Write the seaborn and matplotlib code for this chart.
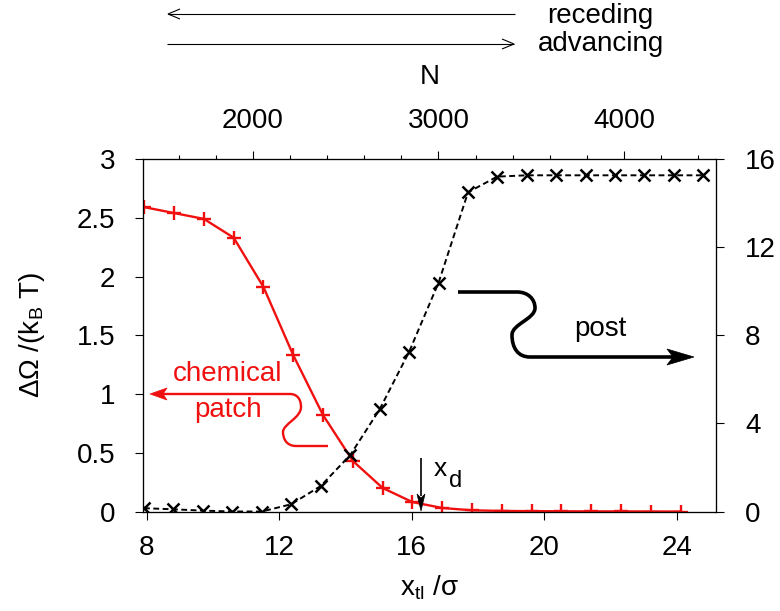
import matplotlib
matplotlib.use('Agg')
import matplotlib.pyplot as plt
from matplotlib.path import Path
from matplotlib.patches import PathPatch, Polygon
from matplotlib.transforms import Affine2D
from matplotlib.ticker import MultipleLocator, FormatStrFormatter
import seaborn as sns

# chemical patch: free energy barrier (left axis)
x_patch = [7.92, 8.82, 9.72, 10.62, 11.52, 12.42, 13.32, 14.22, 15.12, 16.02,
           16.92, 17.82, 18.72, 19.62, 20.52, 21.42, 22.32, 23.22, 24.12]
omega_patch = [2.59, 2.54, 2.49, 2.33, 1.91, 1.33, 0.82, 0.43, 0.20, 0.08,
               0.03, 0.01, 0.005, 0.003, 0.002, 0.001, 0.001, 0.0, 0.0]

# post: free energy barrier (right axis)
x_post = [7.91, 8.80, 9.69, 10.58, 11.47, 12.36, 13.25, 14.14, 15.03, 15.92,
          16.81, 17.70, 18.58, 19.47, 20.36, 21.25, 22.14, 23.03, 23.92, 24.81]
omega_post = [0.15, 0.10, 0.04, 0.0, 0.0, 0.33, 1.16, 2.56, 4.64, 7.25,
              10.39, 14.49, 15.20, 15.26, 15.26, 15.26, 15.26, 15.26, 15.26, 15.26]

x_ticks = [8, 12, 16, 20, 24]
patch_ticks = [0, 0.5, 1, 1.5, 2, 2.5, 3]
post_ticks = [0, 4, 8, 12, 16]
n_ticks = [2000, 3000, 4000]

sns.set_style('ticks')
plt.rcParams['font.family'] = ['Liberation Sans', 'DejaVu Sans']
plt.rcParams['mathtext.fontset'] = 'custom'
plt.rcParams['mathtext.rm'] = 'Liberation Sans'
plt.rcParams['mathtext.it'] = 'Liberation Sans'
plt.rcParams['font.size'] = 20
plt.rcParams['text.color'] = 'black'
plt.rcParams['axes.edgecolor'] = 'black'
plt.rcParams['axes.labelcolor'] = 'black'
plt.rcParams['xtick.color'] = 'black'
plt.rcParams['ytick.color'] = 'black'

W, H = 780, 611
fig = plt.figure(figsize=(W / 100, H / 100), dpi=100)
ax = fig.add_axes([143 / W, 1 - 511.5 / H, 573 / W, 352.5 / H])
ax2 = ax.twinx()
ax3 = ax.twiny()

red = '#f01010'
sns.lineplot(x=x_patch, y=omega_patch, ax=ax, color=red, lw=1.7,
             marker='+', markersize=10, markeredgewidth=1.7,
             markeredgecolor=red)
sns.lineplot(x=x_post, y=omega_post, ax=ax2, color='black', lw=1.4,
             marker='x', markersize=8.5, markeredgewidth=1.8,
             markeredgecolor='black')
ax2.lines[0].set_dashes([3, 1.8])

ax.set_xlim(7.88, 25.19)
ax.set_ylim(0, 3)
ax2.set_ylim(0, 16)
ax3.set_xlim(1407, 4496)

ax.set_xticks(x_ticks)
ax.set_yticks(patch_ticks)
ax.yaxis.set_major_formatter(FormatStrFormatter('%g'))
ax2.set_yticks(post_ticks)
ax3.set_xticks(n_ticks)
ax3.xaxis.set_minor_locator(MultipleLocator(200))

for a in (ax, ax2, ax3):
    a.tick_params(which='major', direction='out', length=6, width=0.8,
                  labelsize=20, pad=11)
    a.tick_params(which='minor', direction='out', length=3, width=0.8)
    for s in a.spines.values():
        s.set_linewidth(0.8)
ax.tick_params(axis='y', pad=14)
ax2.tick_params(axis='y', pad=15)
ax3.tick_params(axis='x', pad=12)

ax.set_xlabel(r'x$_{\mathrm{tl}}$ /σ', labelpad=9)
ax.set_ylabel(r'ΔΩ /(k$_{\mathrm{B}}$ T)', labelpad=21)
ax2.set_ylabel('')
ax3.set_xlabel('N', labelpad=17)

# annotations drawn in reference pixel coordinates
px = Affine2D().scale(1 / W, -1 / H).translate(0, 1) + fig.transFigure


def curve(verts, codes, color, lw):
    fig.add_artist(PathPatch(Path(verts, codes), fill=False, edgecolor=color,
                             lw=lw, transform=px, capstyle='butt'))


def head(pts, color):
    fig.add_artist(Polygon(pts, closed=True, facecolor=color, edgecolor=color,
                           lw=0.5, transform=px))


M, L, C = Path.MOVETO, Path.LINETO, Path.CURVE4

# post arrow
curve([(458, 292), (517, 292), (528, 292), (535, 299), (535, 308),
       (535, 319), (512, 324), (512, 335), (512, 348), (518, 357), (530, 357),
       (676, 357)],
      [M, L, C, C, C, C, C, C, C, C, C, L], 'black', 2.6)
head([(694, 357), (667, 349), (673, 357), (667, 365)], 'black')
fig.text(600, 329, 'post', transform=px, ha='center', va='center')

# chemical patch arrow
curve([(328, 446), (296, 446), (286, 446), (283, 438), (283, 432),
       (283, 424), (301, 418), (301, 407), (301, 399), (297, 394), (290, 394),
       (160, 394)],
      [M, L, C, C, C, C, C, C, C, C, C, L], red, 1.7)
head([(150, 394), (167, 388), (163, 394), (167, 400)], red)
fig.text(228, 374, 'chemical', transform=px, ha='center', va='center', color=red)
fig.text(228, 410, 'patch', transform=px, ha='center', va='center', color=red)

# x_d marker
curve([(421, 458), (421, 496)], [M, L], 'black', 1.2)
head([(421, 511), (417, 494), (421, 498), (425, 494)], 'black')
fig.text(440, 469, 'x', transform=px, ha='center', va='center', fontsize=19)
fig.text(456, 481, 'd', transform=px, ha='center', va='center', fontsize=17)

# receding / advancing arrows
curve([(515, 14), (168, 14)], [M, L], 'black', 0.8)
curve([(180, 9), (168, 14), (180, 19)], [M, L, L], 'black', 0.8)
curve([(167, 44), (514, 44)], [M, L], 'black', 0.8)
curve([(502, 39), (514, 44), (502, 49)], [M, L, L], 'black', 0.8)
fig.text(600, 16, 'receding', transform=px, ha='center', va='center')
fig.text(601, 44, 'advancing', transform=px, ha='center', va='center')

fig.savefig('out.png', dpi=100)
